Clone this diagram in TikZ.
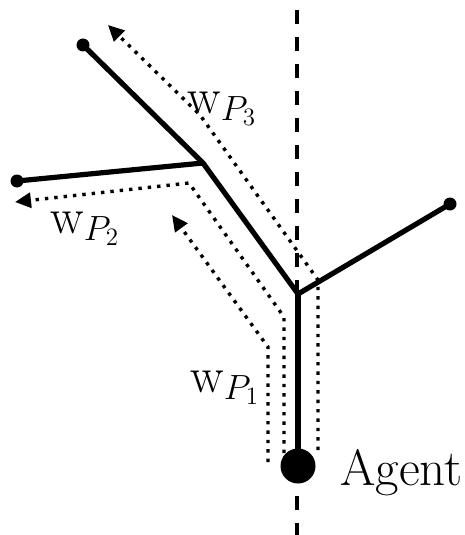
\RequirePackage{fix-cm}
\documentclass[tikz,border=0pt]{standalone}
\usetikzlibrary{arrows.meta}
\begin{document}
\begin{tikzpicture}[x=0.5pt,y=-0.5pt,
  branch/.style={line width=2.6pt},
  enddot/.style={circle,fill,inner sep=0pt,minimum size=6.5pt},
  junction/.style={circle,fill,inner sep=0pt,minimum size=2.6pt},
  agentdot/.style={circle,fill,inner sep=0pt,minimum size=17.5pt},
  trace/.style={line width=1.7pt,dash pattern=on 1.7pt off 3pt,-{Triangle[length=8pt,width=7.5pt]}},
  axis/.style={line width=1.6pt,dash pattern=on 7pt off 6.5pt},
  lbl/.style={font=\fontsize{25}{30}\selectfont,inner sep=0pt},
  agentlabel/.style={font=\fontsize{25.5}{30}\selectfont,inner sep=0pt}]
\useasboundingbox (0,0) rectangle (465,535);
% vertical dashed axis
\coordinate (axtop) at (297,10);
\coordinate (axbot) at (297,535);
\draw[axis] (axtop) -- (axbot);
% tree nodes
\node[agentdot] (agent) at (298,466) {};
\node[junction] (j1) at (298,294) {};
\node[junction] (j2) at (203,163) {};
\node[enddot] (e1) at (83,45) {};
\node[enddot] (e2) at (17,181) {};
\node[enddot] (e3) at (450,204) {};
\draw[branch] (agent.center) -- (j1.center);
\draw[branch] (j1.center) -- (j2.center);
\draw[branch] (j2.center) -- (e1.center);
\draw[branch] (j2.center) -- (e2.center);
\draw[branch] (j1.center) -- (e3.center);
% dotted paths
\coordinate (p1a) at (268,462);
\coordinate (p1b) at (268,347);
\coordinate (p1c) at (172,215);
\draw[trace] (p1a) -- (p1b) -- (p1c);
\coordinate (p2a) at (284,453);
\coordinate (p2b) at (284,317);
\coordinate (p2c) at (189,183);
\coordinate (p2d) at (15,202);
\draw[trace] (p2a) -- (p2b) -- (p2c) -- (p2d);
\coordinate (p3a) at (318,450);
\coordinate (p3b) at (318,280);
\coordinate (p3c) at (200,115);
\coordinate (p3d) at (108,25);
\draw[trace] (p3a) -- (p3b) -- (p3c) -- (p3d);
% labels
\node[agentlabel,anchor=base west] (agentlbl) at (340,485) {Agent};
\node[lbl,anchor=base west] (l3) at (187,113) {$\mathrm{w}_{P_3}$};
\node[lbl,anchor=base west] (l2) at (50,233) {$\mathrm{w}_{P_2}$};
\node[lbl,anchor=base west] (l1) at (190,392) {$\mathrm{w}_{P_1}$};
\end{tikzpicture}
\end{document}
